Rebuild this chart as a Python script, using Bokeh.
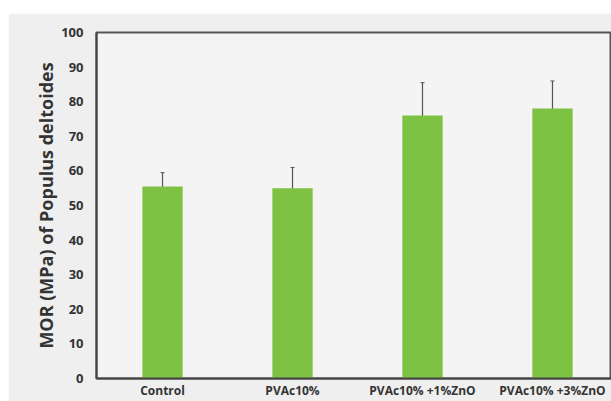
from bokeh.plotting import figure
from bokeh.models import ColumnDataSource, Whisker, FixedTicker, Spacer
from bokeh.layouts import column, row
from bokeh.embed import file_html
from bokeh.resources import INLINE

categories = ["Control", "PVAc10%", "PVAc10% +1%ZnO", "PVAc10% +3%ZnO"]
mor_values = [55.5, 55.0, 76.0, 78.0]
mor_errors = [4.0, 6.0, 9.5, 8.0]
y_ticks = [0, 10, 20, 30, 40, 50, 60, 70, 80, 90, 100]

xs = list(range(len(categories)))
src = ColumnDataSource(dict(
    x=xs, top=mor_values,
    upper=[v + e for v, e in zip(mor_values, mor_errors)],
    lower=[v - e for v, e in zip(mor_values, mor_errors)],
))

p = figure(width=603, height=388, output_backend="svg", toolbar_location=None,
           x_range=(-0.508, 3.454), y_range=(0, 100),
           min_border_left=88, min_border_top=19, min_border_bottom=23, min_border_right=0)
p.background_fill_color = "#f4f4f4"
p.border_fill_color = "#efefef"
p.outline_line_color = "#555555"
p.outline_line_width = 2

p.vbar(x="x", top="top", width=0.31, bottom=0, source=src,
       fill_color="#7dc243", line_color=None)
w = Whisker(base="x", upper="upper", lower="lower", source=src,
            line_color="#555555", line_width=1.2)
w.upper_head.size = 4
w.lower_head.size = 4
w.upper_head.line_color = "#555555"
w.lower_head.line_color = "#555555"
p.add_layout(w)

p.xgrid.visible = False
p.ygrid.visible = False

p.yaxis.ticker = FixedTicker(ticks=y_ticks)
p.yaxis.axis_label = "MOR (MPa) of Populus deltoides"
p.yaxis.axis_label_text_font = "Open Sans"
p.yaxis.axis_label_text_font_style = "bold"
p.yaxis.axis_label_text_font_size = "18px"
p.yaxis.axis_label_text_color = "#333333"
p.yaxis.axis_label_standoff = 0
p.yaxis.major_label_text_font = "Open Sans"
p.yaxis.major_label_text_font_style = "bold"
p.yaxis.major_label_text_font_size = "13px"
p.yaxis.major_label_text_color = "#333333"
p.yaxis.major_tick_out = 0
p.yaxis.major_tick_in = 0
p.yaxis.minor_tick_out = 0
p.yaxis.minor_tick_in = 0
p.yaxis.major_label_standoff = 13
p.yaxis.axis_line_color = "#444444"
p.yaxis.axis_line_width = 2

p.xaxis.ticker = FixedTicker(ticks=xs)
p.xaxis.major_label_overrides = {i: c for i, c in enumerate(categories)}
p.xaxis.major_label_text_font = "Open Sans"
p.xaxis.major_label_text_font_style = "bold"
p.xaxis.major_label_text_font_size = "12px"
p.xaxis.major_label_text_color = "#333333"
p.xaxis.major_tick_out = 0
p.xaxis.major_tick_in = 0
p.xaxis.minor_tick_out = 0
p.xaxis.minor_tick_in = 0
p.xaxis.major_label_standoff = 3
p.xaxis.axis_line_color = "#444444"
p.xaxis.axis_line_width = 2

layout = column(Spacer(width=611, height=13),
                row(Spacer(width=8, height=388), p, spacing=0),
                spacing=0)
open("out.html", "w").write(file_html(layout, INLINE))
